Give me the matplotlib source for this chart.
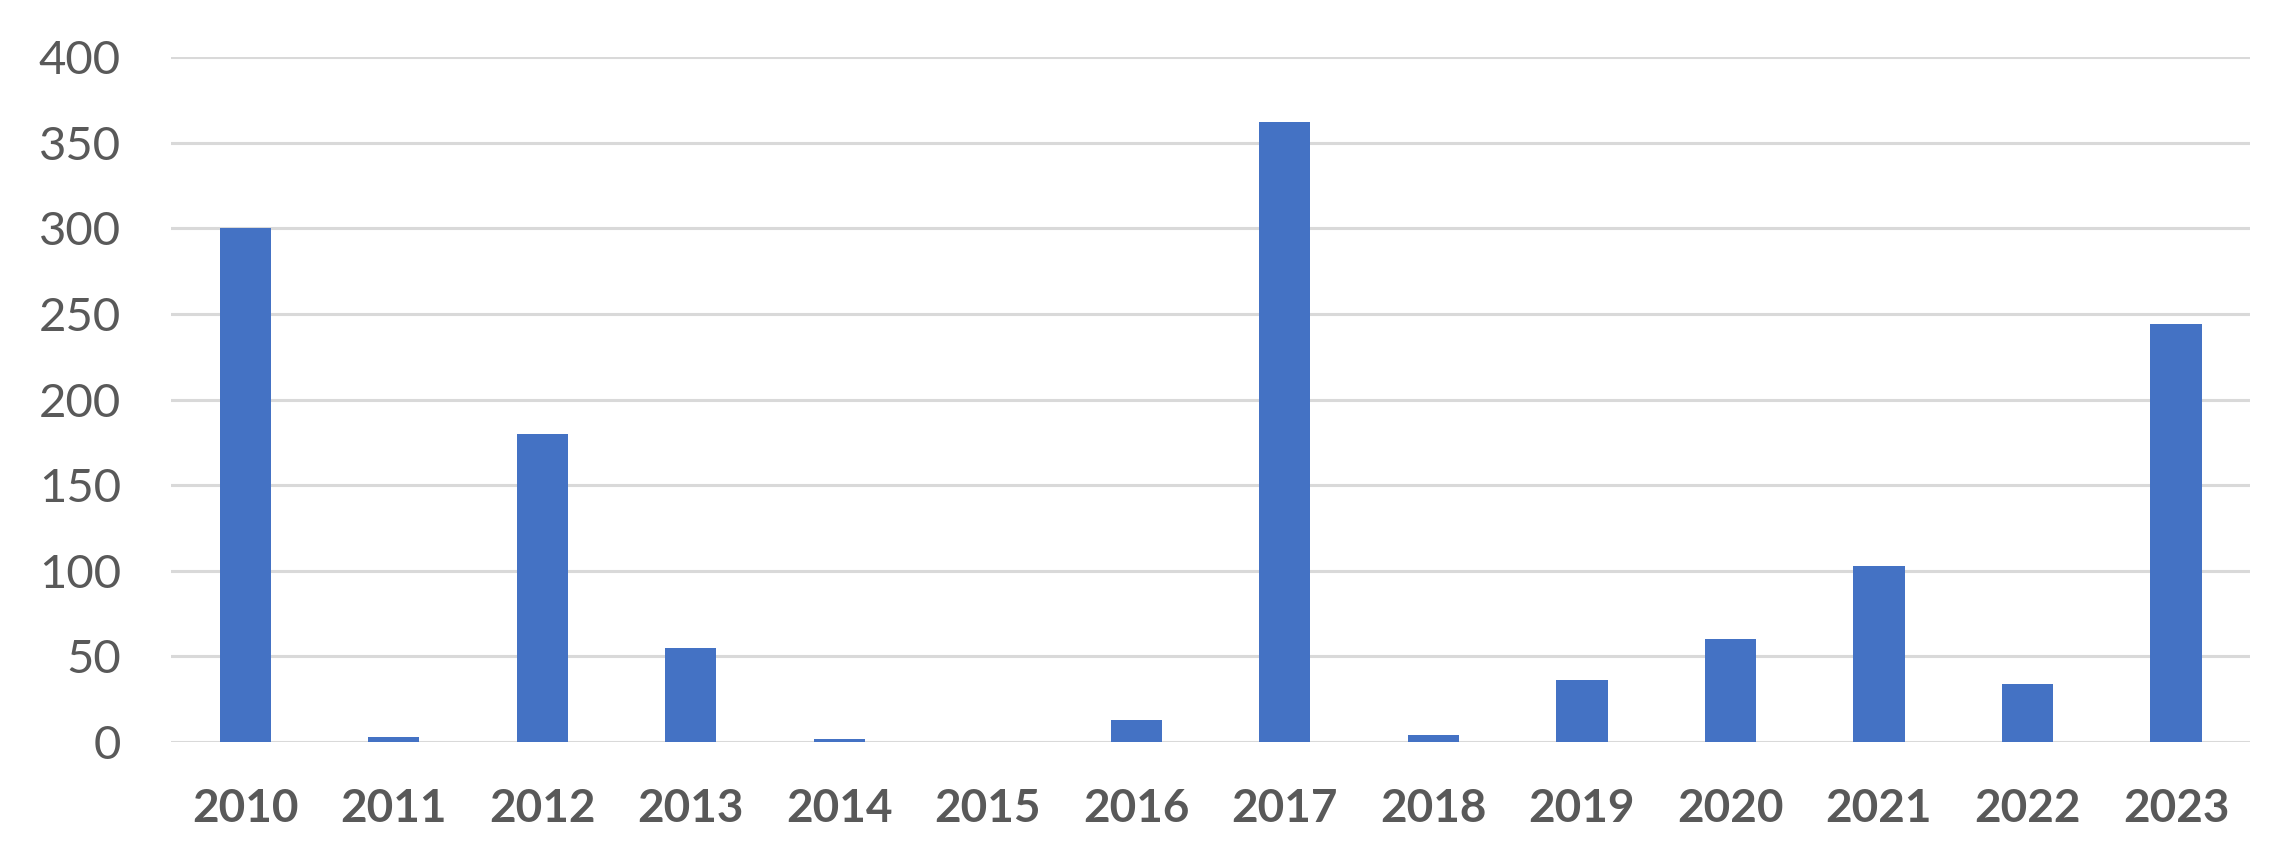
import matplotlib
matplotlib.use('Agg')
import matplotlib.pyplot as plt
import numpy as np

# Data
years = ['2010', '2011', '2012', '2013', '2014', '2015', '2016',
         '2017', '2018', '2019', '2020', '2021', '2022', '2023']
values = [300, 3, 180, 55, 2, 0, 13, 362, 4, 36, 60, 103, 34, 244]
y_ticks = [0, 50, 100, 150, 200, 250, 300, 350, 400]

plt.rcParams['font.family'] = ['Lato', 'DejaVu Sans']

fig = plt.figure(figsize=(22.73, 8.6), dpi=100)
ax = fig.add_axes([0.0752, 0.1372, 0.9148, 0.7965])

x = np.arange(len(years))
ax.bar(x, values, width=0.345, color='#4472C4', zorder=3)

ax.set_xlim(-0.5, len(years) - 0.5)
ax.set_ylim(0, 400)
ax.set_yticks(y_ticks)
ax.set_yticklabels([str(t) for t in y_ticks], fontsize=34, color='#595959')
ax.set_xticks(x)
ax.set_xticklabels(years, fontsize=33, fontweight='bold', color='#595959')

ax.grid(axis='y', color='#d9d9d9', linewidth=2.2, zorder=0)
ax.tick_params(axis='y', length=0, pad=36)
ax.tick_params(axis='x', length=0, pad=33)
for s in ax.spines.values():
    s.set_visible(False)

fig.savefig('out.png', dpi=100)
